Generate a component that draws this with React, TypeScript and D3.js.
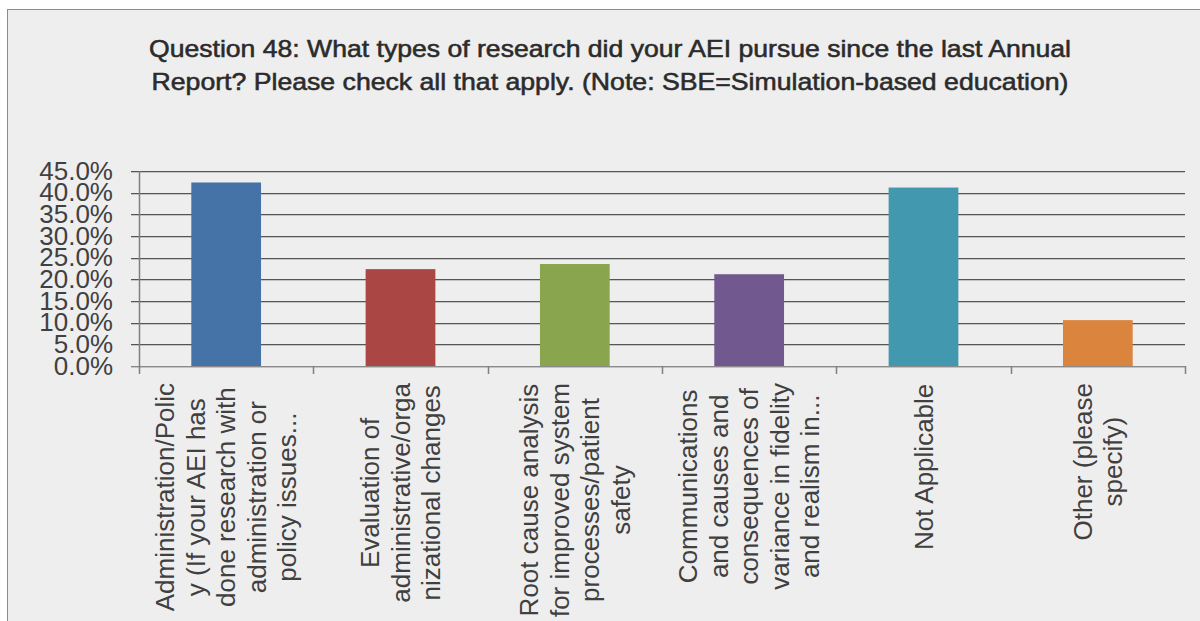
import React from "react";
import * as d3 from "d3";

const TITLE_LINES = [
  "Question 48: What types of research did your AEI pursue since the last Annual",
  "Report? Please check all that apply. (Note: SBE=Simulation-based education)",
];

const CATEGORY_LINES: string[][] = [
  ["Administration/Polic", "y (If your AEI has", "done research with", "administration or", "policy issues..."],
  ["Evaluation of", "administrative/orga", "nizational changes"],
  ["Root cause analysis", "for improved system", "processes/patient", "safety"],
  ["Communications", "and causes and", "consequences of", "variance in fidelity", "and realism in..."],
  ["Not Applicable"],
  ["Other (please", "specify)"],
];

const VALUES = [42.35, 22.35, 23.53, 21.18, 41.18, 10.59];
const COLORS = ["#4572a7", "#aa4643", "#89a54e", "#71588f", "#4198af", "#db843d"];
const Y_TICKS = [0, 5, 10, 15, 20, 25, 30, 35, 40, 45];

const W = 1200;
const H = 621;
const LABEL_FONT = '26px "Liberation Sans", Arial, sans-serif';

function measure(text: string): number {
  const c = document.createElement("canvas").getContext("2d");
  if (!c) return text.length * 13;
  c.font = LABEL_FONT;
  return c.measureText(text).width;
}

export default function App() {
  const cats = CATEGORY_LINES.map((_, i) => String(i));
  const x = d3.scaleBand<string>().domain(cats).range([139, 1185]).paddingInner(0.6).paddingOuter(0.3);
  const step = x.step();
  const y = d3.scaleLinear().domain([0, 45]).range([366, 171]);
  const left = 139;
  const right = 1185;

  return (
    <svg
      width={W}
      height={H}
      style={{ position: "absolute", left: 0, top: 0, fontFamily: '"Liberation Sans", Arial, sans-serif' }}
    >
      <rect x={0} y={0} width={W} height={H} fill="#ffffff" />
      <rect x={7.5} y={9.5} width={W + 20} height={H + 20} fill="#eeeeee" stroke="#8c8c8c" strokeWidth={1} />

      {TITLE_LINES.map((t, i) => (
        <text
          key={i}
          x={610}
          y={57 + i * 32.5}
          textAnchor="middle"
          fontSize={24}
          fontWeight="normal"
          fill="#2b2b2b"
          stroke="#2b2b2b"
          strokeWidth={0.55}
          textLength={i === 0 ? 922 : 917}
          lengthAdjust="spacingAndGlyphs"
        >
          {t}
        </text>
      ))}

      {/* gridlines */}
      {Y_TICKS.map((t) => (
        <g key={t}>
          <line x1={131} x2={right} y1={Math.round(y(t)) + 1.5} y2={Math.round(y(t)) + 1.5} stroke="#c4c4c4" strokeWidth={1} />
          <line x1={131} x2={right} y1={Math.round(y(t)) + 0.5} y2={Math.round(y(t)) + 0.5} stroke={t === 0 ? "#8a8a8a" : "#555555"} strokeWidth={1} />
          <text
            x={113}
            y={y(t) + 8.6}
            textAnchor="end"
            fontSize={26}
            fill="#404040"
          >
            {t.toFixed(1) + "%"}
          </text>
        </g>
      ))}

      {/* bars */}
      {VALUES.map((v, i) => (
        <rect
          key={i}
          x={x(String(i))}
          y={y(v)}
          width={x.bandwidth()}
          height={y(0) - y(v)}
          fill={COLORS[i]}
        />
      ))}

      {/* axes */}
      <line x1={left + 0.5} x2={left + 0.5} y1={171} y2={374} stroke="#7f7f7f" strokeWidth={1.5} />
      {cats.map((_, k) => {
        const xx = Math.round(left + step * (k + 1)) + 0.5;
        return <line key={k} x1={xx} x2={xx} y1={366} y2={374} stroke="#7f7f7f" strokeWidth={1.5} />;
      })}

      {/* category labels */}
      {CATEGORY_LINES.map((lines, i) => {
        const cx = (x(String(i)) as number) + x.bandwidth() / 2;
        const maxLen = Math.max(...lines.map(measure));
        const yc = 383 + maxLen / 2;
        const n = lines.length;
        return (
          <g key={i}>
            {lines.map((ln, j) => {
              const bx = cx + (j - (n - 1) / 2) * 30.5 + 9;
              return (
                <text
                  key={j}
                  transform={`translate(${bx},${yc}) rotate(-90)`}
                  textAnchor="middle"
                  fontSize={26}
                  fill="#404040"
                >
                  {ln}
                </text>
              );
            })}
          </g>
        );
      })}
    </svg>
  );
}
